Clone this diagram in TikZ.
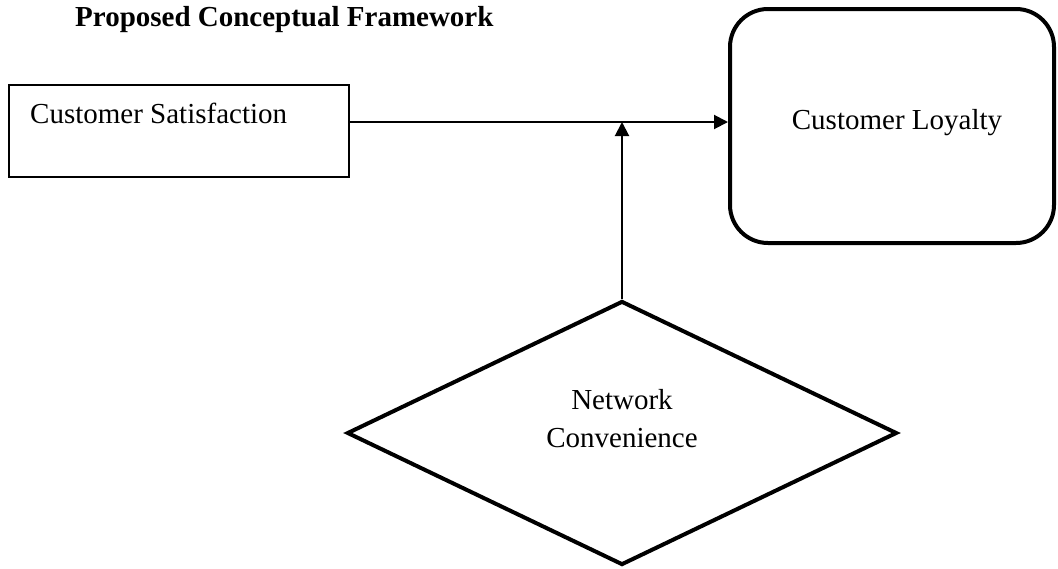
\documentclass[tikz,border=0pt]{standalone}
\usepackage{fontspec}
\setmainfont{Liberation Serif}
\usetikzlibrary{shapes.geometric,arrows.meta}
\begin{document}
\begin{tikzpicture}[x=1pt,y=-1pt,
  txt/.style={inner sep=0pt,font=\fontsize{29}{38}\selectfont},
  thinbox/.style={draw,line width=1.4pt,inner sep=0pt},
  thickbox/.style={draw,line width=4pt,inner sep=0pt},
  link/.style={line width=2pt,-{Triangle[length=14pt,width=14pt]}}]
  \useasboundingbox (0,0) rectangle (1058,568);
  % heading
  \node[txt,font=\fontsize{29}{37}\selectfont\bfseries,anchor=base west] (title) at (75,26) {Proposed Conceptual Framework};
  % independent variable
  \node[thinbox,minimum width=340,minimum height=92] (cs) at (179,131) {};
  \node[txt,anchor=base west] (cstext) at (30,123) {Customer Satisfaction};
  % dependent variable
  \node[thickbox,rounded corners=38pt,minimum width=324,minimum height=234] (cl) at (892,126) {};
  \node[txt,anchor=base] (cltext) at (897,129) {Customer Loyalty};
  % moderator
  \node[thickbox,diamond,minimum width=550,minimum height=264] (nc) at (622,433) {};
  \node[txt,align=center,anchor=base] (nctext) at (622,447) {Network\\Convenience};
  % connectors
  \coordinate (j) at (nc.north |- 0,122);
  \draw[link] (cs.east |- j) -- (cl.west |- j);
  \draw[link] (nc.north) -- (j);
\end{tikzpicture}
\end{document}
